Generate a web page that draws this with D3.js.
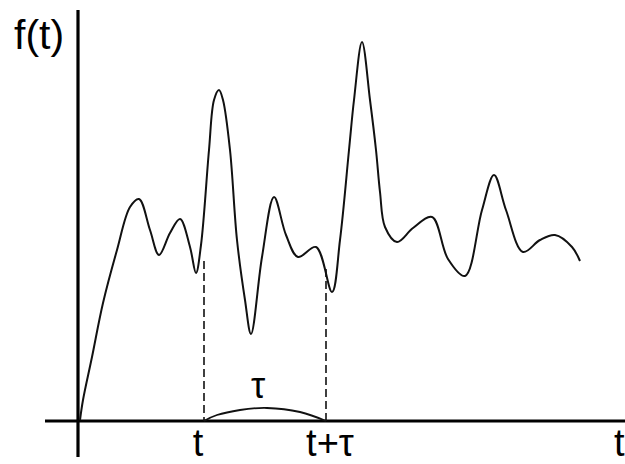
<!DOCTYPE html>
<html><head><meta charset="utf-8">
<script src="https://cdn.jsdelivr.net/npm/d3@7"></script>
<style>html,body{margin:0;padding:0;background:#fff;}svg{display:block;}</style>
</head><body>
<script>
// Signal f(t): t in horizontal units, f in vertical units
const tValues = [2,5,14,25,39,52,61,72,81,92,102,112,118,123,131,136,141,145,152,159,167,173,184,196,208,220,238,254,262,271,276,284,292,298,302,307,319,335,354,370,387,404,416,428,445,462,477,494,502];
const fValues = [0.25,5.25,16,29.5,42.75,53.5,55.5,47.75,41.5,47,50.5,43.5,37,44,67.75,80.25,82.75,80.25,67.75,45.25,30.25,21.75,41,56,46.5,41,43.5,32.25,45.25,67.75,80.25,94.75,80.25,67.75,57.25,48.5,44.75,48.25,51,40.5,36.25,52.75,61.5,52.75,42.25,45.25,46.5,43.5,40];
// Markers t and t+tau
const markerLabels = ["t", "t+\u03c4"];
const markerT = [126, 248];
const markerTop = [40, 38];
// small tau arc between the markers
const arcT = [126, 139, 162, 189, 222, 248];
const arcF = [0, 1.5, 2.75, 3.25, 2.25, 0];
const axisLabelY = "f(t)";
const axisLabelX = "t";
const tauLabel = "\u03c4";

const W = 625, H = 464;
const x = d3.scaleLinear().domain([0, 545]).range([78, 623]);
const y = d3.scaleLinear().domain([0, 100]).range([421, 21]);

const svg = d3.select("body").append("svg").attr("width", W).attr("height", H);
const font = "'Liberation Sans', Arial, sans-serif";

// axes
svg.append("line").attr("x1", x(0)).attr("x2", x(0)).attr("y1", 10).attr("y2", 457)
  .attr("stroke", "#000").attr("stroke-width", 3.2);
svg.append("line").attr("x1", 45).attr("x2", W).attr("y1", y(0)).attr("y2", y(0))
  .attr("stroke", "#000").attr("stroke-width", 3.2);

// curve
const pts = tValues.map((t, i) => [t, fValues[i]]);
svg.append("path").datum(pts)
  .attr("d", d3.line().x(d => x(d[0])).y(d => y(d[1])).curve(d3.curveCatmullRom.alpha(0.5)))
  .attr("fill", "none").attr("stroke", "#111").attr("stroke-width", 2);

// dashed markers
svg.selectAll(".mk").data(markerT).enter().append("line")
  .attr("x1", d => x(d)).attr("x2", d => x(d))
  .attr("y1", (d, i) => y(markerTop[i])).attr("y2", y(0))
  .attr("stroke", "#111").attr("stroke-width", 1.6).attr("stroke-dasharray", "8,4");

// tau arc
const arcPts = arcT.map((t, i) => [t, arcF[i]]);
svg.append("path").datum(arcPts)
  .attr("d", d3.line().x(d => x(d[0])).y(d => y(d[1])).curve(d3.curveNatural))
  .attr("fill", "none").attr("stroke", "#111").attr("stroke-width", 1.8);

// labels
svg.append("text").attr("x", 14).attr("y", 49).text(axisLabelY)
  .attr("font-family", font).attr("font-size", 41).attr("fill", "#000");
svg.selectAll(".ml").data(markerT).enter().append("text")
  .attr("x", (d, i) => x(d) + (i === 0 ? -6 : 4)).attr("y", 456)
  .attr("text-anchor", "middle").text((d, i) => markerLabels[i])
  .attr("font-family", font).attr("font-size", 38).attr("fill", "#000");
svg.append("text").attr("x", 614).attr("y", 456).text(axisLabelX)
  .attr("font-family", font).attr("font-size", 38).attr("fill", "#000");
svg.append("text").attr("x", x(180)).attr("y", 398).attr("text-anchor", "middle").text(tauLabel)
  .attr("font-family", font).attr("font-size", 36).attr("fill", "#000");
</script>
</body></html>
